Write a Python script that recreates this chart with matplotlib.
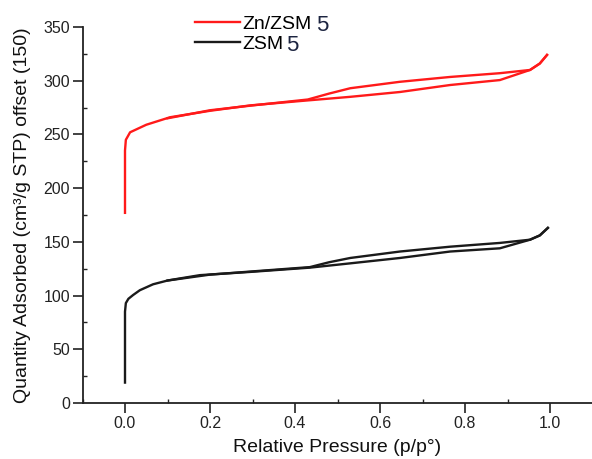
import numpy as np
import matplotlib
matplotlib.use("Agg")
import matplotlib.pyplot as plt

plt.rcParams['font.family'] = ['Liberation Sans', 'DejaVu Sans']

# Zn/ZSM5 (offset 150) - adsorption and desorption branches
p_zn_ads = [0, 0, 0.002, 0.012, 0.05, 0.106, 0.2, 0.294, 0.41, 0.53, 0.647, 0.765, 0.882, 0.953, 0.976, 0.993]
q_zn_ads = [177, 235, 245, 252, 259, 266, 272, 277, 281, 285, 289.5, 296, 300.6, 310, 316, 324]
p_zn_des = [0.993, 0.976, 0.953, 0.882, 0.765, 0.647, 0.53, 0.48, 0.43, 0.3, 0.2, 0.1]
q_zn_des = [324, 316, 310, 307, 303.5, 299, 293, 288, 282.5, 277, 272.5, 265]

# ZSM5
p_z_ads = [0, 0, 0.002, 0.008, 0.019, 0.035, 0.066, 0.1, 0.13, 0.176, 0.294, 0.435, 0.53, 0.647, 0.765, 0.882, 0.953, 0.976, 0.995]
q_z_ads = [19, 85, 93, 97, 100.5, 105, 110.5, 114, 116, 119, 122, 126, 130, 135, 141, 144, 152, 156, 163]
p_z_des = [0.995, 0.976, 0.953, 0.882, 0.765, 0.647, 0.53, 0.48, 0.435, 0.3, 0.2, 0.1]
q_z_des = [163, 156, 152, 149, 145.5, 141, 135, 131, 126.5, 122.5, 119.5, 114]

labels = ['Zn/ZSM', 'ZSM']

fig = plt.figure(figsize=(5.92, 4.59), dpi=100)
ax = fig.add_axes([82.5/592, 56/459, 510/592, 376/459])

ax.plot(p_zn_ads, q_zn_ads, color='#ff1a1a', lw=1.7, label=labels[0])
ax.plot(p_zn_des, q_zn_des, color='#ff1a1a', lw=1.7)
ax.plot(p_z_ads, q_z_ads, color='#1a1a1a', lw=1.7, label=labels[1])
ax.plot(p_z_des, q_z_des, color='#1a1a1a', lw=1.7)

ax.set_xlim(-0.1, 1.1)
ax.set_ylim(0, 350)
ax.set_xticks(np.arange(0, 1.01, 0.2))
ax.set_xticks(np.arange(-0.1, 1.1, 0.1), minor=True)
ax.set_yticks(np.arange(0, 351, 50))
ax.set_yticks(np.arange(25, 350, 25), minor=True)
ax.tick_params(which='major', direction='out', length=7, width=1.2, pad=2,
               labelsize=11.5, colors='#222222')
ax.tick_params(which='minor', direction='in', length=3, width=1.0, colors='#222222')
for s in ['top', 'right']:
    ax.spines[s].set_visible(False)
for s in ['left', 'bottom']:
    ax.spines[s].set_linewidth(1.3)
    ax.spines[s].set_color('#222222')

ax.set_xlabel('Relative Pressure (p/p°)', fontsize=14, labelpad=6, color='#111111')
ax.set_ylabel('Quantity Adsorbed (cm³/g STP) offset (150)', fontsize=14, labelpad=9, color='#111111')

leg = ax.legend(loc='upper left', bbox_to_anchor=(195/592, 1 - 15/459), bbox_transform=fig.transFigure,
                frameon=False, fontsize=14, handlelength=2.3, handletextpad=0.15, labelspacing=0.12,
                borderpad=0, borderaxespad=0)

# the "5" is drawn a bit larger and darker, as in the original
fig.canvas.draw()
r = fig.canvas.get_renderer()
for t, gap in zip(leg.get_texts(), [4, 2]):
    bb = t.get_window_extent(r)
    fig.text(bb.x1 + gap, (bb.y0 + bb.y1) / 2 - 1, '5', fontsize=16, color='#1c2440',
             va='center', ha='left', transform=None)

fig.savefig('out.png', dpi=100)
